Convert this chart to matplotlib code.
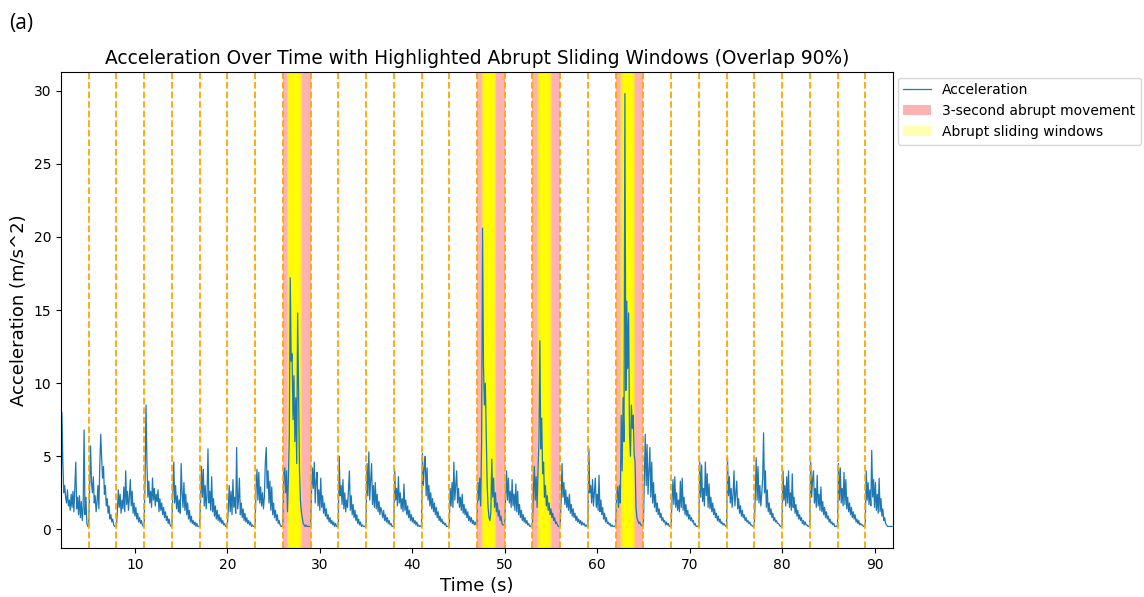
import numpy as np
import matplotlib
matplotlib.use("Agg")
import matplotlib.pyplot as plt

# acceleration magnitude sampled every 0.1 s, one row per 3-second window (2 s .. 92 s)
accel_windows = [
    [0.3, 8.0, 4.7, 2.5, 3.0, 2.2, 1.8, 2.7, 1.6, 2.0, 1.3, 2.4, 1.5, 2.6, 1.2, 3.0, 4.6, 1.4, 2.2, 1.0, 2.3, 0.8, 1.9, 0.6, 1.5, 6.8, 1.0, 2.2, 0.4, 0.2],
    [0.3, 2.8, 5.7, 3.2, 2.5, 3.6, 1.8, 2.3, 1.2, 1.9, 3.0, 1.4, 4.4, 6.5, 4.9, 3.5, 4.3, 2.4, 3.0, 1.6, 2.1, 1.1, 1.6, 0.7, 1.0, 0.5, 0.7, 0.3, 0.2, 0.2],
    [0.2, 1.2, 2.7, 1.5, 2.4, 1.1, 2.0, 1.4, 2.9, 1.2, 4.0, 1.7, 2.6, 1.3, 2.2, 3.4, 1.6, 2.6, 1.1, 1.8, 0.9, 1.5, 0.7, 1.1, 0.5, 0.8, 0.4, 0.6, 0.3, 0.2],
    [0.4, 3.5, 8.5, 4.5, 2.2, 3.3, 1.8, 2.6, 1.5, 3.5, 2.0, 2.8, 1.6, 2.4, 1.9, 2.7, 1.2, 2.1, 1.3, 1.8, 1.0, 1.5, 0.8, 1.2, 0.6, 0.9, 0.4, 0.7, 0.3, 0.2],
    [0.3, 2.5, 4.6, 1.8, 3.0, 1.4, 2.3, 1.2, 2.0, 1.1, 4.5, 2.5, 1.5, 3.2, 1.3, 2.4, 1.0, 1.8, 0.7, 1.3, 0.5, 0.9, 0.4, 0.6, 0.3, 0.5, 0.2, 0.4, 0.2, 0.2],
    [0.2, 2.0, 4.3, 2.2, 4.1, 1.6, 3.0, 1.4, 2.3, 5.5, 1.8, 2.6, 1.3, 3.6, 1.2, 2.1, 0.9, 1.6, 0.7, 1.3, 0.6, 1.0, 0.5, 0.8, 0.4, 0.6, 0.3, 0.4, 0.2, 0.2],
    [0.3, 1.4, 3.0, 1.2, 2.6, 1.0, 3.4, 1.5, 2.2, 1.1, 5.6, 1.4, 2.0, 3.5, 1.0, 1.8, 0.8, 1.4, 0.6, 1.1, 0.5, 0.8, 0.4, 0.6, 0.3, 0.5, 0.2, 0.3, 0.2, 0.2],
    [0.2, 2.8, 4.1, 2.0, 3.9, 1.8, 2.9, 1.6, 2.5, 1.4, 2.2, 4.5, 5.6, 2.8, 4.0, 1.8, 3.3, 1.3, 2.9, 1.0, 1.8, 0.8, 1.3, 0.6, 1.0, 0.4, 0.6, 0.3, 0.2, 0.2],
    [0.3, 3.8, 4.2, 2.5, 4.0, 1.2, 3.5, 6.5, 17.2, 11.5, 12.0, 7.5, 10.5, 6.0, 9.0, 4.5, 14.8, 9.5, 4.0, 2.0, 1.2, 0.8, 0.4, 0.3, 0.2, 0.3, 0.2, 0.2, 0.2, 0.2],
    [0.2, 2.5, 4.2, 2.8, 4.6, 1.8, 3.3, 3.9, 1.6, 2.7, 1.3, 3.5, 1.5, 2.3, 1.1, 1.8, 0.9, 1.4, 0.7, 1.0, 0.5, 0.8, 0.4, 0.6, 0.3, 0.5, 0.2, 0.4, 0.2, 0.2],
    [0.3, 5.0, 2.3, 3.0, 1.7, 3.4, 1.4, 2.5, 1.2, 2.0, 1.5, 2.8, 4.0, 1.3, 2.3, 1.0, 1.7, 0.8, 1.3, 0.6, 1.0, 0.4, 0.7, 0.3, 0.5, 0.2, 0.3, 0.2, 0.2, 0.2],
    [0.3, 4.5, 2.3, 5.3, 2.0, 3.4, 4.5, 1.7, 3.0, 1.5, 3.2, 1.4, 2.4, 1.2, 1.9, 1.0, 1.5, 1.2, 0.8, 1.3, 0.6, 1.0, 0.5, 0.8, 0.4, 0.6, 0.3, 0.4, 0.2, 0.2],
    [0.3, 4.0, 2.0, 2.8, 1.6, 3.6, 1.8, 2.5, 1.4, 2.1, 1.2, 3.1, 1.3, 2.0, 1.0, 1.6, 0.8, 1.3, 0.6, 1.0, 0.5, 0.8, 0.4, 0.6, 0.3, 0.5, 0.2, 0.3, 0.2, 0.2],
    [0.3, 5.2, 3.0, 4.2, 5.0, 2.3, 4.2, 2.0, 3.0, 1.6, 2.5, 1.4, 2.1, 1.2, 1.8, 1.0, 1.5, 0.8, 1.2, 0.6, 0.9, 0.5, 0.7, 0.4, 0.5, 0.3, 0.4, 0.2, 0.2, 0.2],
    [0.3, 2.8, 1.6, 3.2, 1.5, 4.6, 2.0, 3.0, 4.0, 1.8, 2.8, 1.5, 2.2, 1.3, 2.4, 1.1, 1.7, 1.0, 1.4, 0.8, 1.2, 0.6, 0.9, 0.5, 0.8, 0.4, 0.6, 0.3, 0.5, 0.3],
    [0.4, 3.2, 2.0, 3.5, 1.6, 6.0, 20.6, 11.2, 8.5, 10.0, 6.5, 3.0, 1.5, 0.8, 0.6, 1.2, 4.8, 2.2, 3.5, 1.5, 2.5, 1.2, 1.8, 0.9, 1.3, 0.6, 0.9, 0.4, 0.3, 0.3],
    [0.3, 2.2, 4.0, 2.0, 3.5, 1.8, 2.6, 1.5, 3.4, 1.6, 2.4, 1.3, 3.1, 1.2, 2.6, 1.0, 1.7, 0.8, 1.3, 0.6, 1.0, 0.5, 0.8, 0.4, 0.6, 0.3, 0.4, 0.2, 0.2, 0.3],
    [0.4, 2.5, 4.3, 2.0, 3.6, 1.5, 4.0, 6.0, 12.9, 5.5, 7.6, 3.8, 4.6, 2.2, 3.0, 1.6, 2.3, 1.3, 1.8, 1.0, 1.4, 0.8, 1.1, 0.6, 0.8, 0.4, 0.5, 0.3, 0.2, 0.2],
    [0.3, 2.0, 4.5, 2.2, 3.2, 1.7, 2.7, 1.5, 2.2, 1.3, 2.4, 1.1, 1.7, 0.9, 1.4, 0.8, 1.1, 0.6, 0.9, 0.5, 0.7, 0.4, 0.6, 0.3, 0.5, 0.3, 0.4, 0.2, 0.3, 0.2],
    [0.3, 5.5, 2.5, 3.0, 1.8, 3.4, 1.6, 2.6, 3.5, 1.5, 2.4, 1.3, 3.7, 1.2, 2.0, 1.0, 1.5, 0.7, 1.1, 0.5, 0.8, 0.4, 0.5, 0.3, 0.4, 0.2, 0.3, 0.2, 0.2, 0.2],
    [0.3, 2.2, 2.9, 1.5, 3.0, 1.8, 7.8, 4.0, 9.0, 6.0, 29.8, 9.5, 15.6, 11.0, 14.8, 6.5, 5.0, 8.5, 6.9, 7.8, 5.1, 4.6, 1.5, 0.8, 0.6, 0.4, 0.5, 0.3, 0.3, 0.2],
    [0.3, 3.5, 6.5, 3.0, 5.8, 2.4, 4.0, 5.6, 2.2, 4.6, 1.8, 3.2, 1.5, 2.4, 1.2, 1.8, 1.0, 1.4, 0.8, 1.1, 0.6, 0.8, 0.5, 0.6, 0.3, 0.5, 0.3, 0.4, 0.2, 0.2],
    [0.3, 2.0, 3.4, 1.7, 3.6, 1.5, 2.5, 1.3, 2.0, 1.2, 3.3, 1.5, 3.5, 1.3, 2.2, 1.0, 1.7, 0.9, 1.3, 0.7, 1.0, 0.6, 0.8, 0.5, 0.6, 0.3, 0.4, 0.2, 0.2, 0.2],
    [0.3, 4.6, 2.2, 4.4, 1.9, 2.8, 1.6, 4.6, 2.3, 3.8, 1.5, 3.1, 1.4, 2.2, 1.2, 1.8, 1.0, 1.4, 0.8, 1.1, 0.6, 0.9, 0.5, 0.7, 0.4, 0.5, 0.3, 0.4, 0.3, 0.2],
    [0.3, 4.9, 2.3, 3.6, 1.8, 2.8, 1.5, 2.3, 4.0, 1.6, 2.5, 3.3, 1.4, 2.1, 1.1, 1.6, 0.9, 1.3, 0.8, 1.0, 0.6, 0.8, 0.5, 0.6, 0.4, 0.5, 0.3, 0.3, 0.2, 0.2],
    [0.3, 2.2, 4.9, 2.0, 4.3, 1.8, 3.0, 1.6, 2.4, 3.5, 6.6, 2.5, 4.0, 1.5, 2.7, 1.2, 1.8, 1.0, 1.4, 0.8, 1.1, 0.6, 0.8, 0.5, 0.6, 0.4, 0.4, 0.3, 0.2, 0.2],
    [0.3, 4.0, 2.0, 3.0, 1.6, 3.6, 1.8, 4.0, 1.5, 2.5, 1.3, 3.8, 1.5, 2.2, 1.1, 1.7, 0.9, 1.3, 0.7, 1.0, 0.6, 0.8, 0.4, 0.6, 0.3, 0.5, 0.3, 0.3, 0.2, 0.2],
    [0.3, 4.6, 2.2, 3.4, 4.0, 1.8, 2.8, 1.5, 3.7, 1.6, 2.4, 1.3, 2.9, 1.2, 1.9, 1.0, 1.5, 0.8, 1.2, 0.7, 0.9, 0.5, 0.7, 0.4, 0.5, 0.3, 0.4, 0.2, 0.2, 0.2],
    [0.3, 4.5, 2.0, 4.2, 1.8, 2.8, 1.6, 3.9, 1.7, 3.4, 1.4, 2.2, 1.2, 1.8, 1.0, 1.5, 0.8, 1.2, 0.7, 1.0, 0.5, 0.7, 0.4, 0.6, 0.3, 0.4, 0.3, 0.3, 0.2, 0.2],
    [0.3, 4.0, 2.0, 3.2, 1.7, 2.7, 1.6, 5.4, 2.2, 3.4, 1.5, 3.2, 1.3, 2.4, 1.1, 3.5, 1.2, 2.1, 0.9, 1.4, 0.6, 0.8, 0.4, 0.3, 0.2, 0.2, 0.2, 0.2, 0.2, 0.2],
]

t_start, t_end = 2, 92
window_len = 3
abrupt_starts = [26, 47, 53, 62]
# span covered by the sliding windows flagged as abrupt inside each 3 s window
sliding_spans = [(26.45, 28.1), (47.45, 49.1), (53.5, 55.1), (62.5, 64.1)]
slide_len = 0.5
overlap = 0.9

accel = np.concatenate(accel_windows)
time = t_start + 0.1 * np.arange(len(accel))

fig = plt.figure(figsize=(11.44, 5.97), dpi=100)
ax = fig.add_axes([0.0533, 0.082, 0.7273, 0.7974])

ax.plot(time, accel, color='tab:blue', linewidth=0.9, label='Acceleration')

for i, s in enumerate(abrupt_starts):
    ax.axvspan(s, s + window_len, color='red', alpha=0.3, linewidth=0,
               label='3-second abrupt movement' if i == 0 else None)

step = slide_len * (1 - overlap)
first = True
for a, b in sliding_spans:
    w = a
    while w + slide_len <= b + 1e-9:
        ax.axvspan(w, w + slide_len, color='yellow', alpha=0.3, linewidth=0,
                   label='Abrupt sliding windows' if first else None)
        first = False
        w += step

# boundaries between the 3 s windows (inner ones only)
for edge in range(t_start + window_len, t_end, window_len):
    ax.axvline(edge, color='orange', linestyle='--', linewidth=1.3)

ax.set_xlim(t_start, t_end)
ax.set_title('Acceleration Over Time with Highlighted Abrupt Sliding Windows (Overlap 90%)', fontsize=13.4)
ax.set_xlabel('Time (s)', fontsize=13)
ax.set_ylabel('Acceleration (m/s^2)', fontsize=13)
ax.tick_params(labelsize=10)
ax.legend(loc='upper left', bbox_to_anchor=(0.999, 1.0), fontsize=10, borderaxespad=0.4)

fig.text(0.008, 0.952, '(a)', fontsize=15, family='Open Sans')

fig.savefig('out.png', dpi=100)
